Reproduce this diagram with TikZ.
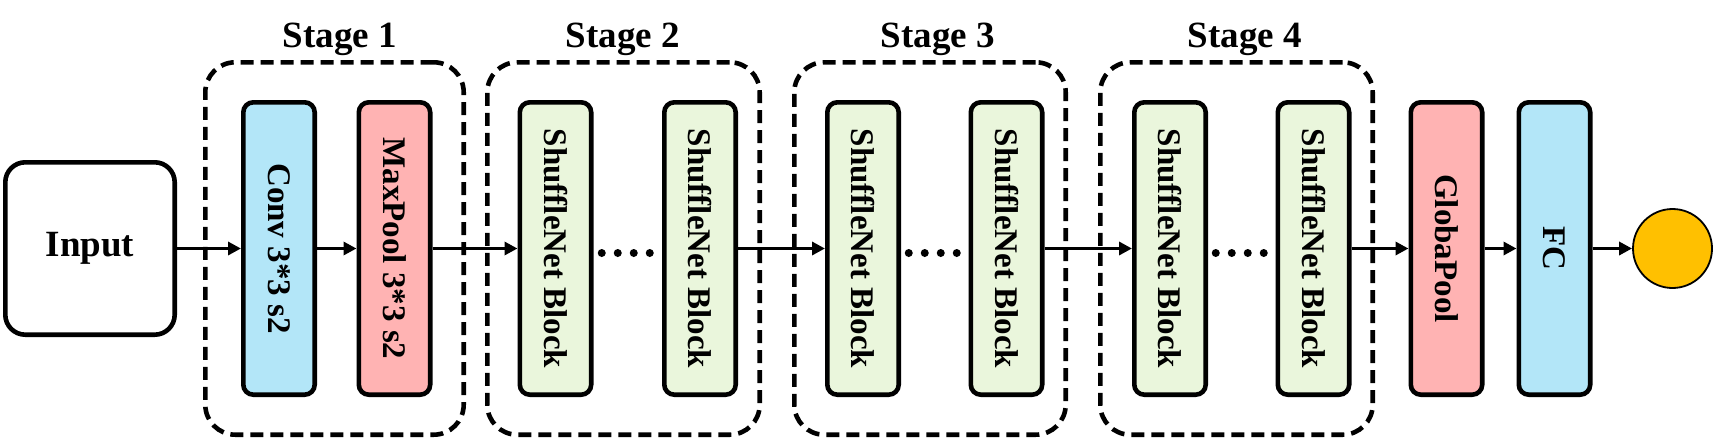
\documentclass[tikz,border=0pt]{standalone}
\usepackage{fontspec}
\usepackage{graphicx}
\setmainfont{Liberation Serif}
\usetikzlibrary{arrows.meta,calc}
\definecolor{convblue}{HTML}{B3E6F8}
\definecolor{poolpink}{HTML}{FFB3B3}
\definecolor{shufgreen}{HTML}{EAF6DC}
\definecolor{outgold}{HTML}{FFC000}
\begin{document}
\begin{tikzpicture}[
          blk/.style={draw, line width=2.3pt, rounded corners=5pt, inner sep=0pt,
            minimum width=35.7pt, minimum height=146.2pt,
            font=\fontsize{16.5}{18}\selectfont\bfseries},
          shuf/.style={blk, fill=shufgreen},
          stg/.style={draw, line width=2.3pt, dash pattern=on 6.5pt off 3.5pt,
            rounded corners=15pt, inner sep=0pt, minimum height=186.2pt},
          stglabel/.style={anchor=base, font=\fontsize{18.5}{20}\selectfont\bfseries},
          ar/.style={-{Triangle[length=6.5pt, width=6.5pt]}, line width=1.7pt},
          x=0.5pt,
          y=0.5pt,
        ]
      \useasboundingbox (0, 0) rectangle (1714, 441);
      \node[stg, minimum width=129.2pt] (stage1) at (334.5, 192.5) {};
      \node[stg, minimum width=136.2pt] (stage2) at (623.5, 192.5) {};
      \node[stg, minimum width=135.7pt] (stage3) at (930, 192.5) {};
      \node[stg, minimum width=136.2pt] (stage4) at (1236.5, 192.5) {};
      \node[stglabel] (lab1) at (340, 394) {Stage 1};
      \node[stglabel] (lab2) at (623, 394) {Stage 2};
      \node[stglabel] (lab3) at (938, 394) {Stage 3};
      \node[stglabel] (lab4) at (1245, 394) {Stage 4};
      \node[blk, rounded corners=10pt, minimum width=84.7pt, minimum height=86.2pt,
        font=\fontsize{18.5}{20}\selectfont\bfseries] (input) at (90, 192.5) {Input};
      \node[blk, fill=convblue] (conv) at (279, 192.5) {\rotatebox{-90}{Conv 3*3 s2}};
      \node[blk, fill=poolpink] (pool) at (394.5, 192.5) {\rotatebox{-90}{MaxPool 3*3 s2}};
      \node[shuf] (b2a) at (555.5, 192.5) {\rotatebox{-90}{ShuffleNet Block}};
      \node[shuf] (b2b) at (700, 192.5) {\rotatebox{-90}{ShuffleNet Block}};
      \node[shuf] (b3a) at (863, 192.5) {\rotatebox{-90}{ShuffleNet Block}};
      \node[shuf] (b3b) at (1006.5, 192.5) {\rotatebox{-90}{ShuffleNet Block}};
      \node[shuf] (b4a) at (1170, 192.5) {\rotatebox{-90}{ShuffleNet Block}};
      \node[shuf] (b4b) at (1313.5, 192.5) {\rotatebox{-90}{ShuffleNet Block}};
      \node[blk, fill=poolpink] (gpool) at (1446.5, 192.5) {\rotatebox{-90}{GlobaPool}};
      \node[blk, fill=convblue] (fc) at (1554.5, 192.5) {\rotatebox{-90}{FC}};
      \node[circle, draw, line width=0.9pt, fill=outgold, minimum size=39.5pt,
        inner sep=0pt] (out) at (1672.5, 192.5) {};
      \draw[ar] (input) -- (conv);
      \draw[ar] (conv) -- (pool);
      \draw[ar] (pool) -- (b2a);
      \draw[ar] (b2b) -- (b3a);
      \draw[ar] (b3b) -- (b4a);
      \draw[ar] (b4b) -- (gpool);
      \draw[ar] (gpool) -- (fc);
      \draw[ar] (fc) -- (out);
      \foreach \a/\b in {b2a/b2b, b3a/b3b, b4a/b4b}
        \foreach \d in {-26, -10, 6, 22}
          \fill ($(\a.east)!0.5!(\b.west)$) ++(\d, -4.5) circle[radius=2pt];
    \end{tikzpicture}
\end{document}
